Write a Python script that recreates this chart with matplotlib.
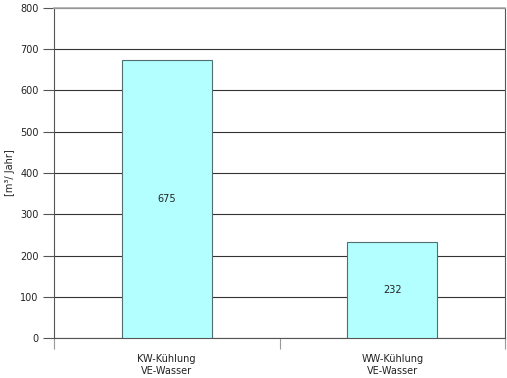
import matplotlib
matplotlib.use("Agg")
import matplotlib.pyplot as plt

# Daten
kategorien = ["KW-Kühlung\nVE-Wasser", "WW-Kühlung\nVE-Wasser"]
werte = [675, 232]
y_ticks = [0, 100, 200, 300, 400, 500, 600, 700, 800]

plt.rcParams['font.family'] = ['DejaVu Sans']

fig = plt.figure(figsize=(5.07, 3.78), dpi=100)
ax = fig.add_axes([54 / 507, 40 / 378, 451 / 507, 330 / 378])

x = list(range(len(werte)))
ax.bar(x, werte, width=0.4, color='#B3FFFF', edgecolor='#4F6F6F', linewidth=0.8, zorder=3)

for xi, w in zip(x, werte):
    ax.text(xi, w / 2, str(w), ha='center', va='center', fontsize=7, color='#222222', zorder=4)

ax.set_xlim(-0.5, 1.5)
ax.set_ylim(0, 800)
ax.set_yticks(y_ticks)
ax.tick_params(axis='y', labelsize=7, length=8, width=0.8, color='#555555', labelcolor='#222222', pad=3)
ax.yaxis.grid(True, color='#333333', linewidth=0.8, zorder=0)

ax.set_xticks([-0.5, 0.5, 1.5])
ax.set_xticklabels([])
ax.tick_params(axis='x', length=8, width=0.8, color='#999999')
for xi, k in zip(x, kategorien):
    ax.text(xi, -40, k, ha='center', va='top', fontsize=7, color='#222222', linespacing=1.15)

for s in ['left', 'bottom', 'right']:
    ax.spines[s].set_color('#555555')
    ax.spines[s].set_linewidth(0.8)
ax.spines['top'].set_color('#aaaaaa')
ax.spines['top'].set_linewidth(1.2)

fig.text(10 / 507, 1 - 173 / 378, '[m³/ Jahr]', rotation=90, ha='center', va='center',
         fontsize=7, color='#222222')

fig.savefig("out.png", dpi=100)
